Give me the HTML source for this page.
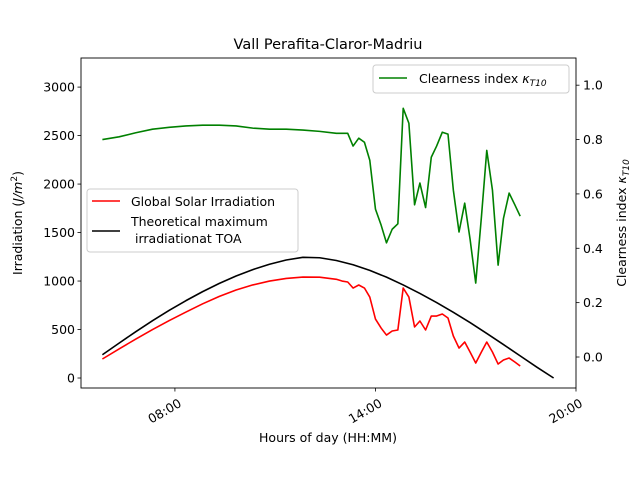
<!DOCTYPE html>
<html><head><meta charset="utf-8"><style>
body{margin:0;background:#fff;}
svg{display:block;font-family:"DejaVu Sans","Liberation Sans",sans-serif;}
</style></head><body>
<svg id="chart" width="640" height="480" viewBox="0 0 640 480">
<rect width="640" height="480" fill="#fff"/>
<text x="328" y="49" font-size="14.5" text-anchor="middle">Vall Perafita-Claror-Madriu</text>
<g id="marks"></g>
<rect x="81" y="58" width="495" height="330" fill="none" stroke="#000" stroke-width="0.9"/>
<g id="axes" font-size="12.5"></g>
<text x="328" y="442" font-size="12.5" text-anchor="middle">Hours of day (HH:MM)</text>
<text transform="translate(22,223) rotate(-90)" font-size="12.5" text-anchor="middle">Irradiation  (<tspan font-style="italic">J/m</tspan><tspan font-size="9" dy="-5">2</tspan><tspan dy="5">)</tspan></text>
<text transform="translate(626,223) rotate(-90)" font-size="12.5" text-anchor="middle">Clearness index <tspan font-style="italic">κ</tspan><tspan font-size="9" dy="3" font-style="italic">T10</tspan></text>
<g>
<rect x="87" y="189" width="211" height="63" rx="3" fill="#fff" fill-opacity="0.8" stroke="#ccc"/>
<line x1="92" y1="201" x2="120" y2="201" stroke="#f00" stroke-width="1.6"/>
<text x="131" y="206" font-size="12.5">Global Solar Irradiation</text>
<line x1="92" y1="231" x2="120" y2="231" stroke="#000" stroke-width="1.6"/>
<text x="131" y="226" font-size="12.5">Theoretical maximum</text>
<text x="135" y="243" font-size="12.5">irradiationat TOA</text>
</g>
<g>
<rect x="373" y="65" width="196" height="28" rx="3" fill="#fff" fill-opacity="0.8" stroke="#ccc"/>
<line x1="379" y1="78" x2="407" y2="78" stroke="green" stroke-width="1.6"/>
<text x="419" y="83" font-size="12.5">Clearness index <tspan font-style="italic">κ</tspan><tspan font-size="9" dy="3" font-style="italic">T10</tspan></text>
</g>
</svg>
<script>
const times = [5.83,6.33,6.83,7.33,7.83,8.33,8.83,9.33,9.83,10.33,10.83,11.33,11.83,12.33,12.83,13.0,13.17,13.33,13.5,13.67,13.83,14.0,14.17,14.33,14.5,14.67,14.83,15.0,15.17,15.33,15.5,15.67,15.83,16.0,16.17,16.33,16.5,16.67,16.83,17.0,17.17,17.33,17.5,17.67,17.83,18.0,18.17,18.33];
const clearness = [0.80,0.81,0.825,0.838,0.845,0.85,0.853,0.853,0.85,0.842,0.838,0.838,0.835,0.83,0.823,0.823,0.823,0.776,0.805,0.79,0.724,0.544,0.485,0.42,0.47,0.49,0.915,0.86,0.56,0.64,0.55,0.735,0.776,0.827,0.82,0.614,0.46,0.566,0.434,0.272,0.515,0.76,0.614,0.338,0.51,0.603,0.56,0.518];
const globalIrr = [196,300,402,500,592,680,765,842,908,960,1000,1027,1041,1040,1018,1000,990,928,959,928,835,608,515,443,485,495,928,835,526,588,495,639,639,660,619,433,309,371,268,155,268,371,268,144,186,206,165,124];
const toaTimes = [5.83,6.33,6.83,7.33,7.83,8.33,8.83,9.33,9.83,10.33,10.83,11.33,11.83,12.33,12.83,13.33,13.83,14.33,14.83,15.33,15.83,16.33,16.83,17.33,17.83,18.33,18.83,19.33];
const toaIrr = [240,360,478,591,698,798,891,976,1052,1118,1173,1217,1245,1240,1212,1168,1110,1040,960,872,778,678,572,460,345,228,112,0];
const leftTicks = [0,500,1000,1500,2000,2500,3000];
const rightTicks = [0.0,0.2,0.4,0.6,0.8,1.0];
const xTicks = [8,14,20];
const xTickLabels = ["08:00","14:00","20:00"];

const NS="http://www.w3.org/2000/svg";
const X0=81,X1=576,Y0=58,Y1=388;
const xMin=5.19,xMax=20;
const lMin=-103,lMax=3300;
const rMin=-0.114,rMax=1.1;
function xs(t){return X0+(t-xMin)/(xMax-xMin)*(X1-X0);}
function yl(v){return Y1-(v-lMin)/(lMax-lMin)*(Y1-Y0);}
function yr(v){return Y1-(v-rMin)/(rMax-rMin)*(Y1-Y0);}
function mk(tag,attrs,parent){const e=document.createElementNS(NS,tag);for(const k in attrs)e.setAttribute(k,attrs[k]);parent.appendChild(e);return e;}
const marks=document.getElementById('marks'), axes=document.getElementById('axes');
function line(tx,vals,yf,color,name){
  const d=vals.map((v,i)=>(i?'L':'M')+xs(tx[i]).toFixed(2)+','+yf(v).toFixed(2)).join('');
  const p=mk('path',{d:d,fill:'none',stroke:color,'stroke-width':1.6,'stroke-linejoin':'round'},marks);
  
  
}
line(times,globalIrr,yl,'#f00','global-irradiation-line');
line(toaTimes,toaIrr,yl,'#000','toa-irradiation-line');
line(times,clearness,yr,'green','clearness-index-line');
leftTicks.forEach(v=>{
  const y=yl(v);
  mk('line',{x1:X0-3.5,x2:X0,y1:y,y2:y,stroke:'#000','stroke-width':0.8},axes);
  const t=mk('text',{x:X0-6,y:y+4.5,'text-anchor':'end'},axes);t.textContent=v;
  
  
});
rightTicks.forEach(v=>{
  const y=yr(v);
  mk('line',{x1:X1,x2:X1+3.5,y1:y,y2:y,stroke:'#000','stroke-width':0.8},axes);
  const t=mk('text',{x:X1+7,y:y+4.5},axes);t.textContent=v.toFixed(1);
  
  
});
xTicks.forEach((v,i)=>{
  const x=xs(v);
  mk('line',{x1:x,x2:x,y1:Y1,y2:Y1+3.5,stroke:'#000','stroke-width':0.8},axes);
  const t=mk('text',{transform:'translate('+(x+3)+','+(Y1+10)+') rotate(-30)','text-anchor':'end',y:9},axes);t.textContent=xTickLabels[i];
  
  
});
</script>
</body></html>
